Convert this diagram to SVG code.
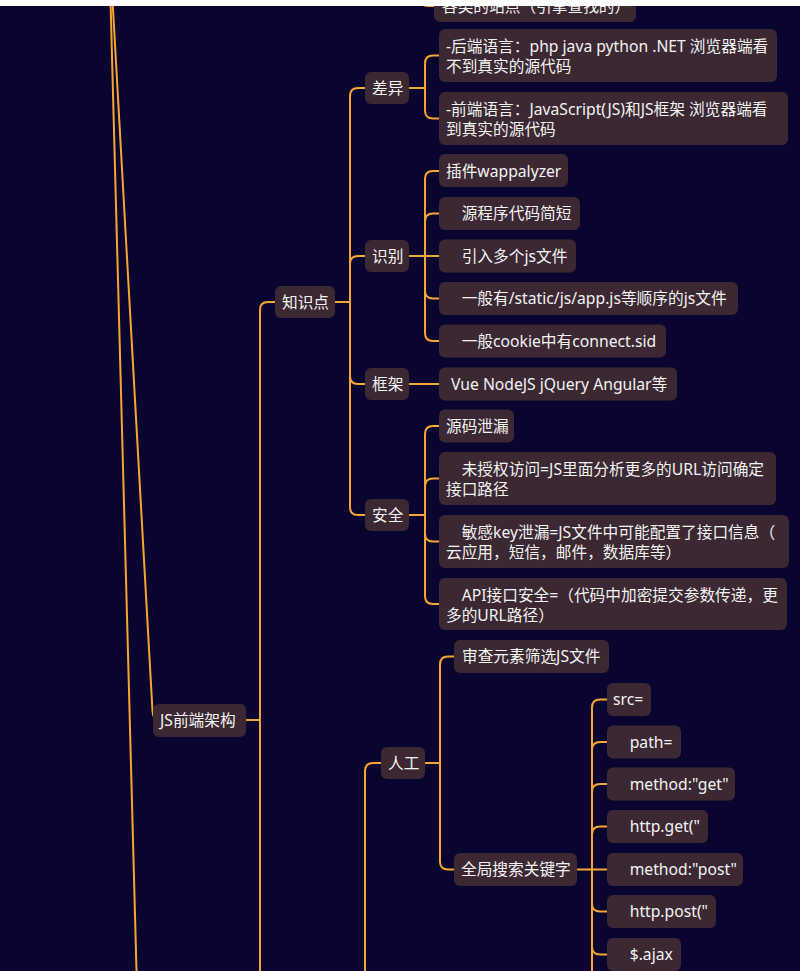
<svg xmlns="http://www.w3.org/2000/svg" width="800" height="971" viewBox="0 0 800 971">
<style>
.bg{fill:#0a0530}
.n rect{fill:#3c2832}
.n text{font-family:'Noto Sans','Noto Sans CJK SC',sans-serif;font-size:15.7px;fill:#f2f2f2}
.c path{fill:none;stroke:#f7a531;stroke-width:2;stroke-linecap:round}
</style>
<rect class="bg" x="0" y="0" width="800" height="971"/>
<g class="c" id="connectors">
<path d="M110.5,0 L136.5,971"/>
<path d="M112.5,0 L152.5,711 Q153,720 158,720"/>
<path d="M246,720 H260"/>
<path d="M260,975 V310 Q260,302 268,302 H277"/>
<path d="M335,302 H350"/>
<path d="M366,88 H358 Q350,88 350,96 V507 Q350,515 358,515 H366"/>
<path d="M366,256 H358 Q350,256 350,264"/>
<path d="M366,384 H358 Q350,384 350,376"/>
<path d="M420,-4 Q420,6 428,6 H436"/>
<path d="M409,88 H425"/>
<path d="M440,55.5 H433 Q425,55.5 425,63.5 V110.5 Q425,118.5 433,118.5 H440"/>
<path d="M409,256 H440"/>
<path d="M440,171 H433 Q425,171 425,179 V333 Q425,341 433,341 H440"/>
<path d="M440,213.5 H433 Q425,213.5 425,221.5"/>
<path d="M440,298.5 H433 Q425,298.5 425,290.5"/>
<path d="M409,384 H440"/>
<path d="M409,515 H425"/>
<path d="M440,426 H433 Q425,426 425,434 V596 Q425,604 433,604 H440"/>
<path d="M440,478.5 H433 Q425,478.5 425,486.5"/>
<path d="M440,541.5 H433 Q425,541.5 425,533.5"/>
<path d="M365,975 V771 Q365,763 373,763 H382"/>
<path d="M425,763 H440"/>
<path d="M455,656.5 H448 Q440,656.5 440,664.5 V861.5 Q440,869.5 448,869.5 H455"/>
<path d="M577,869.5 H608"/>
<path d="M608,699.5 H600 Q592,699.5 592,707.5 V975"/>
<path d="M608,742 H600 Q592,742 592,750"/>
<path d="M608,784 H600 Q592,784 592,792"/>
<path d="M608,826.5 H600 Q592,826.5 592,834.5"/>
<path d="M608,911.5 H600 Q592,911.5 592,903.5"/>
<path d="M608,954.5 H600 Q592,954.5 592,946.5"/>
</g>
<g class="n" id="n-top"><rect x="434" y="-10" width="202" height="32" rx="6"/><text x="442" y="11.5">各类的站点（引擎查找的）</text></g>
<g class="n" id="n-js"><rect x="153" y="704" width="93" height="33" rx="6"/><text x="160" y="726">JS前端架构</text></g>
<g class="n" id="n-zsd"><rect x="275" y="286" width="60" height="32" rx="6"/><text x="282" y="307.5">知识点</text></g>
<g class="n" id="n-cy"><rect x="365" y="72" width="44" height="32" rx="6"/><text x="372" y="93.5">差异</text></g>
<g class="n" id="n-sb"><rect x="365" y="240" width="44" height="32" rx="6"/><text x="372" y="261.5">识别</text></g>
<g class="n" id="n-kj"><rect x="365" y="368" width="44" height="32" rx="6"/><text x="372" y="389.5">框架</text></g>
<g class="n" id="n-aq"><rect x="365" y="499" width="44" height="32" rx="6"/><text x="372" y="520.5">安全</text></g>
<g class="n" id="n-cy1"><rect x="439" y="29" width="338" height="53" rx="6"/><text x="446" y="51.5">-后端语言：php java python .NET 浏览器端看</text><text x="446" y="71.5">不到真实的源代码</text></g>
<g class="n" id="n-cy2"><rect x="439" y="92" width="349" height="53" rx="6"/><text x="446" y="114.5">-前端语言：JavaScript(JS)和JS框架 浏览器端看</text><text x="446" y="134.5">到真实的源代码</text></g>
<g class="n" id="n-sb1"><rect x="439" y="154" width="129" height="33" rx="6"/><text x="446" y="176.5">插件wappalyzer</text></g>
<g class="n" id="n-sb2"><rect x="439" y="197" width="141" height="33" rx="6"/><text x="446" y="219">　源程序代码简短</text></g>
<g class="n" id="n-sb3"><rect x="439" y="239.5" width="137" height="33" rx="6"/><text x="446" y="261.5">　引入多个js文件</text></g>
<g class="n" id="n-sb4"><rect x="439" y="282" width="299" height="33" rx="6"/><text x="446" y="304">　一般有/static/js/app.js等顺序的js文件</text></g>
<g class="n" id="n-sb5"><rect x="439" y="324.5" width="227" height="33" rx="6"/><text x="446" y="346.5">　一般cookie中有connect.sid</text></g>
<g class="n" id="n-kj1"><rect x="439" y="367.5" width="238" height="33" rx="6"/><text x="451" y="389.5">Vue NodeJS jQuery Angular等</text></g>
<g class="n" id="n-aq1"><rect x="439" y="409.5" width="75" height="33" rx="6"/><text x="446" y="431.5">源码泄漏</text></g>
<g class="n" id="n-aq2"><rect x="439" y="452" width="337" height="53" rx="6"/><text x="446" y="474.5">　未授权访问=JS里面分析更多的URL访问确定</text><text x="446" y="494.5">接口路径</text></g>
<g class="n" id="n-aq3"><rect x="439" y="515" width="350" height="53" rx="6"/><text x="446" y="537.5">　敏感key泄漏=JS文件中可能配置了接口信息（</text><text x="446" y="557.5">云应用，短信，邮件，数据库等）</text></g>
<g class="n" id="n-aq4"><rect x="439" y="578" width="348" height="52" rx="6"/><text x="446" y="600.5">　API接口安全=（代码中加密提交参数传递，更</text><text x="446" y="620.5">多的URL路径）</text></g>
<g class="n" id="n-rg"><rect x="381" y="747" width="44" height="32" rx="6"/><text x="388" y="768.5">人工</text></g>
<g class="n" id="n-scys"><rect x="454" y="640" width="155" height="33" rx="6"/><text x="462" y="662">审查元素筛选JS文件</text></g>
<g class="n" id="n-qjss"><rect x="454" y="853" width="123" height="33" rx="6"/><text x="461" y="875">全局搜索关键字</text></g>
<g class="n" id="n-k1"><rect x="607" y="683" width="44" height="33" rx="6"/><text x="613" y="705">src=</text></g>
<g class="n" id="n-k2"><rect x="607" y="725.5" width="74" height="33" rx="6"/><text x="614" y="747.5">　path=</text></g>
<g class="n" id="n-k3"><rect x="607" y="767.5" width="128" height="33" rx="6"/><text x="614" y="789.5">　method:"get"</text></g>
<g class="n" id="n-k4"><rect x="607" y="810" width="101" height="33" rx="6"/><text x="614" y="832">　http.get("</text></g>
<g class="n" id="n-k5"><rect x="607" y="853" width="136" height="33" rx="6"/><text x="614" y="875">　method:"post"</text></g>
<g class="n" id="n-k6"><rect x="607" y="895" width="109" height="33" rx="6"/><text x="614" y="917">　http.post("</text></g>
<g class="n" id="n-k7"><rect x="607" y="938" width="74" height="33" rx="6"/><text x="614" y="960">　$.ajax</text></g>
<rect x="0" y="0" width="800" height="6" fill="#ffffff"/>
</svg>
